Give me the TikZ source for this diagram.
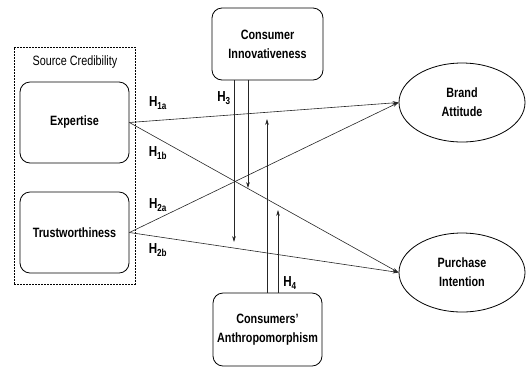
\documentclass[tikz,border=0pt]{standalone}
\usepackage{fontspec}
\setmainfont[FakeStretch=0.8]{Liberation Sans}
\usetikzlibrary{arrows.meta,shapes.geometric}
\begin{document}
\begin{tikzpicture}[x=1pt,y=-1pt,
  txt/.style={font=\fontsize{13.5}{19}\selectfont\bfseries, align=center},
  rbox/.style={draw, line width=0.8pt, rounded corners=10pt, txt, inner sep=0pt},
  oval/.style={draw, line width=0.8pt, ellipse, txt, inner sep=0pt, minimum width=126pt, minimum height=79pt},
  hlab/.style={font=\fontsize{14.5}{16}\selectfont\bfseries, inner sep=0pt},
  arr/.style={line width=0.6pt, draw=black!85, -{Stealth[length=6pt,width=3.6pt]}}
]
\useasboundingbox (0,0) rectangle (526,368);
\node[draw, dash pattern=on 2pt off 1pt, line width=0.6pt, minimum width=121pt, minimum height=237pt, inner sep=0pt] (sc) at (74.5,165.5) {};
\node[font=\fontsize{13.5}{15}\selectfont] (sclab) at (75,62) {Source Credibility};
\node[rbox, minimum width=109pt, minimum height=81pt] (exp) at (74.5,122.5) {Expertise};
\node[rbox, minimum width=109pt, minimum height=81pt] (tru) at (74.5,232.5) {Trustworthiness};
\node[rbox, minimum width=111pt, minimum height=72pt] (ci) at (267.5,44) {Consumer\\Innovativeness};
\node[rbox, minimum width=109pt, minimum height=73pt] (ca) at (267.5,329.5) {Consumers'\\Anthropomorphism};
\node[oval] (ba) at (462,102.5) {Brand\\Attitude};
\node[oval] (pi) at (462,272.5) {Purchase\\Intention};

\draw[arr] (exp.east) -- (ba.west);
\draw[arr] (exp.east) -- (pi.west);
\draw[arr] (tru.east) -- (ba.west);
\draw[arr] (tru.east) -- (pi.west);

\coordinate (d1) at (234,242);
\coordinate (d2) at (248,188);
\coordinate (u1) at (267,119);
\coordinate (u2) at (278,210);
\draw[arr] (ci.south -| d1) -- (d1);
\draw[arr] (ci.south -| d2) -- (d2);
\draw[arr] (ca.north -| u1) -- (u1);
\draw[arr] (ca.north -| u2) -- (u2);

\node[hlab] (h1a) at (158,103) {H\textsubscript{1a}};
\node[hlab] (h1b) at (158,153) {H\textsubscript{1b}};
\node[hlab] (h2a) at (158,205) {H\textsubscript{2a}};
\node[hlab] (h2b) at (158,250) {H\textsubscript{2b}};
\node[hlab] (h3) at (224,98) {H\textsubscript{3}};
\node[hlab] (h4) at (290,283) {H\textsubscript{4}};
\end{tikzpicture}
\end{document}
